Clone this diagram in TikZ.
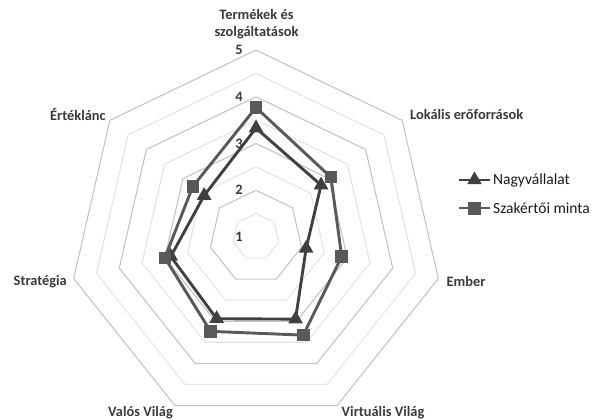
\documentclass[tikz,border=0pt]{standalone}
\usepackage{fontspec}
\setmainfont{Carlito}
\usetikzlibrary{shapes.geometric,calc}
\definecolor{ringmajor}{HTML}{C4C4C4}
\definecolor{ringminor}{HTML}{E4E4E4}
\definecolor{serA}{HTML}{404040}
\definecolor{serB}{HTML}{595959}
\definecolor{txt}{HTML}{3A3A3A}

\tikzset{
  axislabel/.style={font=\fontsize{14.4}{17.5}\selectfont\bfseries, text=txt, inner sep=0pt},
  ticklabel/.style={font=\fontsize{14.4}{17}\selectfont\bfseries, text=txt, inner sep=0pt},
  legendtext/.style={font=\fontsize{15.5}{18}\selectfont, text=black!90, inner sep=0pt, anchor=west},
  ringA/.style={draw=ringmajor, line width=1.1pt, line join=miter},
  ringB/.style={draw=ringminor, line width=1.1pt, line join=miter},
  seriesA/.style={draw=serA, line width=2.9pt, line join=round},
  seriesB/.style={draw=serB, line width=2.9pt, line join=round},
  markA/.style={regular polygon, regular polygon sides=3, fill=serA, draw=none,
                minimum size=17pt, inner sep=0pt, outer sep=0pt},
  markB/.style={rectangle, fill=serB, draw=none, minimum size=12.5pt,
                inner sep=0pt, outer sep=0pt},
}

\begin{document}
\begin{tikzpicture}[x=1pt,y=1pt]
\useasboundingbox (0,0) rectangle (605,420);

% centre of the radar; value 1 sits in the centre, 46.75pt per unit
\coordinate (c) at (256,183);
\def\unit{46.75}

% grid heptagons, every half unit
\foreach \v in {1.5,2.5,3.5,4.5}{
  \pgfmathsetmacro{\r}{(\v-1)*\unit}
  \draw[ringB] ($(c)+(90:\r)$)
    \foreach \k in {1,...,6}{ -- ($(c)+({90-\k*360/7}:\r)$) } -- cycle;
}
\foreach \v in {2,3,4,5}{
  \pgfmathsetmacro{\r}{(\v-1)*\unit}
  \draw[ringA] ($(c)+(90:\r)$)
    \foreach \k in {1,...,6}{ -- ($(c)+({90-\k*360/7}:\r)$) } -- cycle;
}

% value labels along the first axis
\foreach \v in {1,...,5}{
  \node[ticklabel] (t\v) at ($(c)+(-17,{(\v-1)*\unit})$) {\v};
}

% category labels
\node[axislabel, align=center] (cat1) at (256.5,396) {Termékek és\\szolgáltatások};
\node[axislabel, anchor=west] (cat2) at (410,305) {Lokális erőforrások};
\node[axislabel, anchor=west] (cat3) at (446.5,138) {Ember};
\node[axislabel, anchor=base west] (cat4) at (341.5,3.8) {Virtuális Világ};
\node[axislabel, anchor=base west] (cat5) at (108,3.8) {Valós Világ};
\node[axislabel, anchor=west] (cat6) at (13.5,138) {Stratégia};
\node[axislabel, anchor=west] (cat7) at (50,305) {Értéklánc};

% data points: Nagyvállalat (a) and Szakértői minta (b)
\foreach \i/\va/\vb in {1/3.33/3.77, 2/2.78/3.05, 3/2.10/2.88, 4/2.95/3.33,
                        5/2.94/3.24, 6/2.87/3.00, 7/2.42/2.73}{
  \coordinate (a\i) at ($(c)+({90-(\i-1)*360/7}:{(\va-1)*\unit})$);
  \coordinate (b\i) at ($(c)+({90-(\i-1)*360/7}:{(\vb-1)*\unit})$);
}

% Nagyvállalat series
\draw[seriesA] (a1) -- (a2) -- (a3) -- (a4) -- (a5) -- (a6) -- (a7) -- cycle;
\foreach \i in {1,...,7}{ \node[markA] (ma\i) at (a\i) {}; }

% Szakértői minta series
\draw[seriesB] (b1) -- (b2) -- (b3) -- (b4) -- (b5) -- (b6) -- (b7) -- cycle;
\foreach \i in {1,...,7}{ \node[markB] (mb\i) at (b\i) {}; }

% legend
\coordinate (la0) at (459,240);
\coordinate (la1) at (490,240);
\draw[serA, line width=2.4pt] (la0) -- (la1);
\node[markA] (lma) at (474.5,240) {};
\node[legendtext] (lta) at (493,240) {Nagyvállalat};

\coordinate (lb0) at (459,211.7);
\coordinate (lb1) at (490,211.7);
\draw[serB, line width=2.4pt] (lb0) -- (lb1);
\node[markB] (lmb) at (474.5,211.7) {};
\node[legendtext] (ltb) at (493,211.7) {Szakértői minta};
\end{tikzpicture}
\end{document}
